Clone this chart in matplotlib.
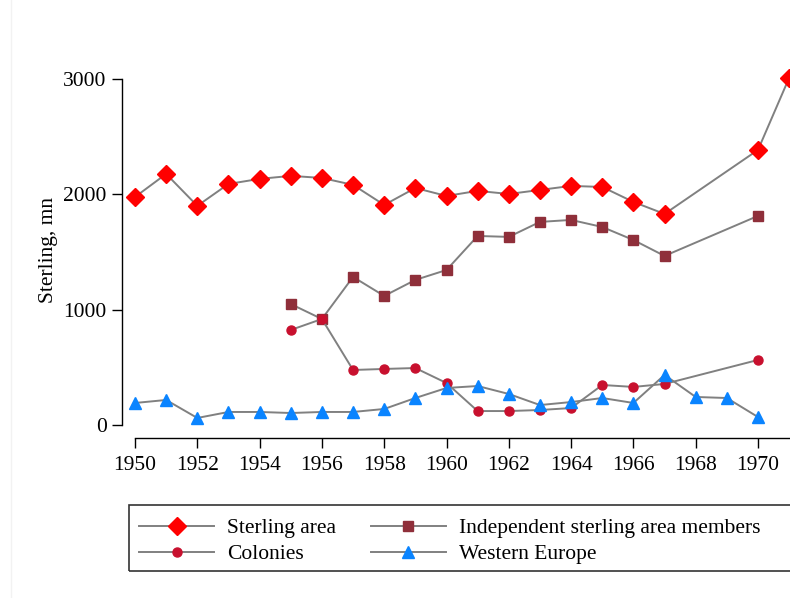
import numpy as np
import matplotlib.pyplot as plt
from matplotlib.lines import Line2D
from matplotlib.patches import Rectangle

plt.rcParams['font.family'] = ['Liberation Serif', 'DejaVu Serif']

# years with data for the sterling-area series (no 1968, 1969)
years_sa = [1950, 1951, 1952, 1953, 1954, 1955, 1956, 1957, 1958, 1959, 1960,
            1961, 1962, 1963, 1964, 1965, 1966, 1967, 1970, 1971]
sterling_area = [1977, 2177, 1900, 2090, 2134, 2160, 2142, 2082, 1908, 2055, 1986,
                 2030, 2003, 2038, 2073, 2064, 1934, 1830, 2385, 3010]

years_sub = [1955, 1956, 1957, 1958, 1959, 1960, 1961, 1962, 1963, 1964, 1965,
             1966, 1967, 1970]
independent = [1049, 919, 1284, 1119, 1258, 1344, 1639, 1631, 1761, 1778, 1717,
               1604, 1466, 1813]
colonies = [824, 919, 477, 486, 494, 364, 121, 121, 130, 147, 347,
            330, 356, 564]

years_we = list(range(1950, 1971))
western_europe = [191, 217, 61, 113, 113, 104, 113, 113, 139, 234, 321,
                  338, 269, 173, 199, 234, 191, 434, 243, 234, 69]

line_col = '#808080'
fs = 15.5

fig = plt.figure(figsize=(7.9, 5.98), dpi=100)
W, H = 790, 598
# axes: left spine at x=122, bottom at y=438, extends past right edge
left, right, top, bottom = 122, 802, 62, 438
ax = fig.add_axes([left / W, 1 - bottom / H, (right - left) / W, (bottom - top) / H])

px_year = (758 - 135) / 20.0
px_unit = (425 - 79) / 3000.0
ax.set_xlim(1950 - (135 - left) / px_year, 1950 + (right - 135) / px_year)
ax.set_ylim(-(bottom - 425) / px_unit, 3000 + (79 - top) / px_unit)

ax.plot(years_sa, sterling_area, color=line_col, lw=1.4, marker='D', ms=9.5,
        mfc='#ff0000', mec='#ff0000', label='Sterling area', clip_on=False, zorder=3)
ax.plot(years_sub, independent, color=line_col, lw=1.4, marker='s', ms=6.5,
        mfc='#8f2f3a', mec='#8f2f3a', label='Independent sterling area members',
        clip_on=False, zorder=3)
ax.plot(years_sub, colonies, color=line_col, lw=1.4, marker='o', ms=6.5,
        mfc='#c8102e', mec='#c8102e', label='Colonies', clip_on=False, zorder=3)
ax.plot(years_we, western_europe, color=line_col, lw=1.4, marker='^', ms=9,
        mfc='#0a84ff', mec='#0a84ff', label='Western Europe', clip_on=False, zorder=3)

for s in ['top', 'right']:
    ax.spines[s].set_visible(False)
ax.spines['left'].set_bounds(0, 3000)
ax.spines['bottom'].set_bounds(1950, 1975)
ax.spines['left'].set_linewidth(1.0)
ax.spines['bottom'].set_linewidth(1.0)

ax.set_yticks([0, 1000, 2000, 3000])
ax.set_xticks(range(1950, 1971, 2))
ax.tick_params(axis='both', length=7, width=1.0, labelsize=fs, pad=4)
ax.tick_params(axis='x', pad=6)
ax.set_ylabel('Sterling, mn', fontsize=fs, labelpad=4)

handles, labels = ax.get_legend_handles_labels()
order = [0, 2, 1, 3]
leg = fig.legend([handles[i] for i in order], [labels[i] for i in order],
                 loc='upper left', bbox_to_anchor=(124 / W, 1 - 503 / H), ncol=2,
                 frameon=False, fontsize=fs, handlelength=3.5, handletextpad=0.6,
                 columnspacing=1.6, labelspacing=0.28, borderpad=0.2)
fig.add_artist(Rectangle((129 / W, 1 - 571 / H), 700 / W, 66 / H,
                         transform=fig.transFigure, fill=False,
                         edgecolor='#333333', lw=1.2))
fig.add_artist(Line2D([11 / W, 11 / W], [0, 1], transform=fig.transFigure,
                      color='#f2f2f2', lw=1))

fig.savefig('out.png', dpi=100)
